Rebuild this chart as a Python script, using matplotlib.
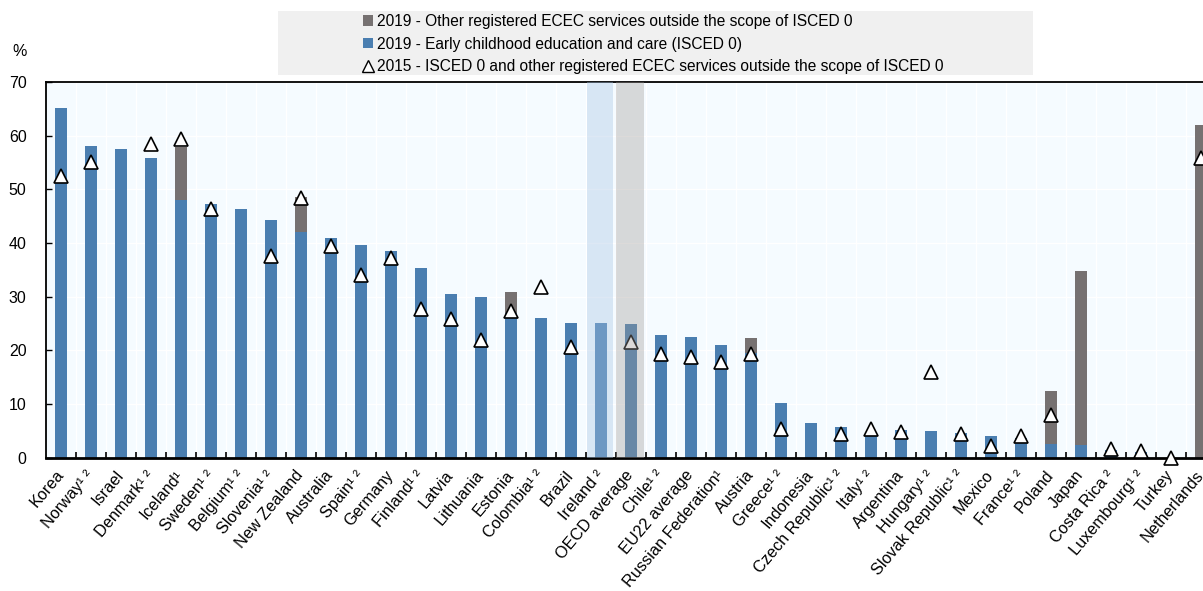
import numpy as np
import matplotlib.pyplot as plt
from matplotlib.lines import Line2D
from matplotlib.patches import Patch, Rectangle

plt.rcParams.update({
    'font.family': ['Liberation Sans', 'DejaVu Sans'],
    'font.size': 11,
})

countries = [
    'Korea', 'Norway¹ ²', 'Israel', 'Denmark¹ ²', 'Iceland¹', 'Sweden¹ ²', 'Belgium¹ ²',
    'Slovenia¹ ²', 'New Zealand', 'Australia', 'Spain¹ ²', 'Germany', 'Finland¹ ²',
    'Latvia', 'Lithuania', 'Estonia', 'Colombia¹ ²', 'Brazil', 'Ireland ²', 'OECD average',
    'Chile¹ ²', 'EU22 average', 'Russian Federation¹', 'Austria', 'Greece¹ ²', 'Indonesia',
    'Czech Republic¹ ²', 'Italy¹ ²', 'Argentina', 'Hungary¹ ²', 'Slovak Republic¹ ²',
    'Mexico', 'France¹ ²', 'Poland', 'Japan', 'Costa Rica ²', 'Luxembourg¹ ²', 'Turkey',
    'Netherlands',
]

# 2019 - ISCED 0
isced0_2019 = [
    65.2, 58.0, 57.5, 55.8, 48.0, 47.3, 46.3, 44.3, 42.1, 41.0, 39.6, 38.5, 35.4,
    30.4, 29.9, 27.0, 26.0, 25.1, 25.0, 24.9, 22.8, 22.4, 21.0, 19.5, 10.2, 6.5,
    5.8, 4.3, 5.1, 4.9, 4.6, 4.0, 3.6, 2.5, 2.3, 1.5, 1.0, 0.0, 0.0,
]

# 2019 - other registered ECEC services outside ISCED 0
other_2019 = [
    0, 0, 0, 0, 9.9, 0, 0, 0, 6.4, 0, 0, 0, 0,
    0, 0, 3.9, 0, 0, 0, 0, 0, 0, 0, 2.7, 0, 0,
    0, 0, 0, 0, 0, 0, 0, 9.9, 32.5, 0, 0, 0, 61.9,
]

# 2015 - total (None where not available)
total_2015 = [
    52.5, 55.0, None, 58.4, 59.3, 46.3, None, 37.6, 48.3, 39.5, 34.0, 37.2, 27.7,
    25.8, 22.0, 27.4, 31.8, 20.7, None, 21.6, 19.3, 18.8, 17.9, 19.3, 5.3, None,
    4.4, 5.3, 4.7, 16.0, 4.4, 2.2, 4.0, 7.9, None, 1.6, 1.2, 0.0, 55.8,
]

blue = '#4A7EB0'
grey = '#767171'

x = np.arange(len(countries))
isced0 = np.array(isced0_2019)
other = np.array(other_2019)
y2015 = np.array([np.nan if v is None else v for v in total_2015])

fig = plt.figure(figsize=(12.03, 5.91), dpi=100)
ax = fig.add_axes([46 / 1203, 133.3 / 591, 1170 / 1203, 375.9 / 591])
ax.set_facecolor('#F5FBFF')

ax.bar(x, isced0, width=0.4, color=blue, zorder=2)
ax.bar(x, other, width=0.4, bottom=isced0, color=grey, zorder=2)
ax.plot(x, y2015, linestyle='none', marker='^', markersize=10.5,
        markerfacecolor='white', markeredgecolor='black', markeredgewidth=1.2,
        zorder=3, clip_on=False)

# highlight Ireland and the OECD average
i_irl = countries.index('Ireland ²')
i_oecd = countries.index('OECD average')
ax.axvspan(i_irl - 0.47, i_irl + 0.40, color='#A8C5E4', alpha=0.38, lw=0, zorder=4)
ax.axvspan(i_oecd - 0.50, i_oecd + 0.43, color='#9F9A97', alpha=0.36, lw=0, zorder=4)

ax.set_xlim(-0.5, len(countries) - 0.5)
ax.set_ylim(0, 70)
ax.set_yticks(np.arange(0, 71, 10))
# label anchors sit slightly left of the bar centres (major ticks are invisible)
ax.set_xticks(x - 0.2)
ax.set_xticks(np.arange(0.5, len(countries) - 0.5, 1), minor=True)
ax.set_xticklabels(countries, rotation=50, ha='right', va='top',
                   rotation_mode='anchor', fontsize=11.7)

ax.tick_params(axis='x', which='major', length=0, pad=7)
ax.tick_params(axis='x', which='minor', direction='in', length=4, width=1.2, color='black')
ax.tick_params(axis='y', direction='in', length=4, width=1, pad=14, labelsize=11.5)

ax.grid(axis='y', color='white', linewidth=1, zorder=0)
ax.grid(axis='x', which='minor', color='white', linewidth=1, zorder=0)
ax.set_axisbelow(True)

for side in ['left', 'top']:
    ax.spines[side].set_linewidth(1.3)
ax.spines['bottom'].set_linewidth(2)
ax.spines['right'].set_visible(False)

fig.text(20 / 1203, 1 - 52 / 591, '%', fontsize=11.5, ha='center', va='center')

# legend panel
fig.patches.append(Rectangle((278 / 1203, 1 - 75 / 591), 755 / 1203, 64 / 591,
                             transform=fig.transFigure, facecolor='#F0F0F0',
                             edgecolor='none', zorder=0))
handles = [
    Patch(facecolor=grey, edgecolor='none'),
    Patch(facecolor=blue, edgecolor='none'),
    Line2D([], [], linestyle='none', marker='^', markersize=8,
           markerfacecolor='white', markeredgecolor='black', markeredgewidth=1),
]
labels = [
    '2019 - Other registered ECEC services outside the scope of ISCED 0',
    '2019 - Early childhood education and care (ISCED 0)',
    '2015 - ISCED 0 and other registered ECEC services outside the scope of ISCED 0',
]
fig.legend(handles, labels, loc='upper left', bbox_to_anchor=(352 / 1203, 1 - 3 / 591),
           frameon=False, prop={'size': 11.2},
           handlelength=0.65, handleheight=0.65, handletextpad=0.25, labelspacing=0.5,
           borderpad=0.2)

fig.savefig('out.png', dpi=100)
